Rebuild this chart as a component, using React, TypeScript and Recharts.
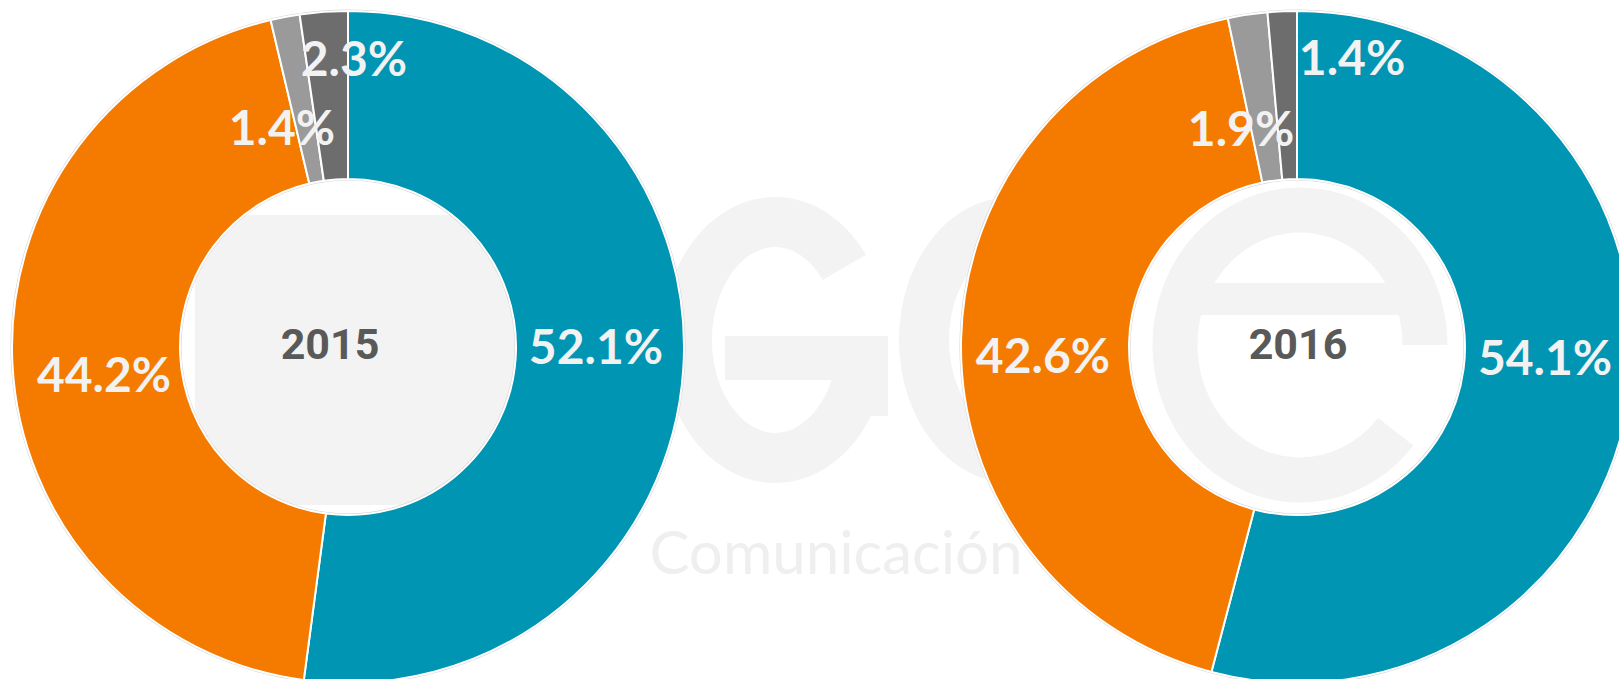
import React from 'react';
import { PieChart, Pie, Cell } from 'recharts';

// ---- data ----
const categories = ['Grupo A', 'Grupo B', 'Grupo C', 'Grupo D'];
const values2015 = [52.1, 44.2, 1.4, 2.3];
const values2016 = [54.1, 42.6, 1.9, 1.4];
const years = ['2015', '2016'];

// ---- styling ----
const colors = ['#0095B3', '#F47B00', '#9A9A9A', '#6D6D6D'];
// label nudges (px) from mid-ring point of each slice
const nudge2015 = [
  { dx: -3.5, dy: -18.6 },
  { dx: 7.7, dy: 13.7 },
  { dx: -18.8, dy: 27.5 },
  { dx: 24.2, dy: -37.7 },
];
const nudge2016 = [
  { dx: -1.9, dy: -22.4 },
  { dx: -2.1, dy: 14.3 },
  { dx: -18.9, dy: 29.3 },
  { dx: 66.1, dy: -39.2 },
];

const toRows = (vals: number[]) => categories.map((name, i) => ({ name, value: vals[i] }));
const data2015 = toRows(values2015);
const data2016 = toRows(values2016);
const ring = [{ name: 'ring', value: 1 }];

const RAD = Math.PI / 180;

const makeLabel = (nudges: { dx: number; dy: number }[], year: string, yearDx: number) =>
  (props: any) => {
    const { cx, cy, midAngle, innerRadius, outerRadius, index, value } = props;
    const r = (innerRadius + outerRadius) / 2;
    const x = cx + r * Math.cos(-midAngle * RAD) + nudges[index].dx;
    const y = cy + r * Math.sin(-midAngle * RAD) + nudges[index].dy;
    return (
      <g>
        <text
          x={x}
          y={y}
          textAnchor="middle"
          dominantBaseline="central"
          fill="#F2F2F2"
          fontFamily="Lato, 'Noto Sans', sans-serif"
          fontWeight={700}
          fontSize={48}
        >
          {`${Number(value).toFixed(1)}%`}
        </text>
        {index === 0 && (
          <text
            x={cx + yearDx}
            y={cy - 3}
            textAnchor="middle"
            dominantBaseline="central"
            fill="#595959"
            fontFamily="Roboto, sans-serif"
            fontWeight={700}
            fontSize={43}
          >
            {year}
          </text>
        )}
      </g>
    );
  };

const W = 1619;
const H = 679;
const CY = 347;
const CX1 = 348;
const CX2 = 1297;
const R_OUT = 336;
const R_IN = 168;

// elliptical arc path helper for the faint background logo
const arcPath = (cx: number, cy: number, rx: number, ry: number, a0: number, a1: number) => {
  const p = (a: number) => [cx + rx * Math.cos(a * RAD), cy - ry * Math.sin(a * RAD)];
  const [x0, y0] = p(a0);
  const [x1, y1] = p(a1);
  const sweep = Math.abs(a1 - a0);
  const large = sweep > 180 ? 1 : 0;
  const dirFlag = a1 > a0 ? 0 : 1;
  return `M ${x0} ${y0} A ${rx} ${ry} 0 ${large} ${dirFlag} ${x1} ${y1}`;
};

function Watermark() {
  const c = '#F3F3F3';
  return (
    <svg width={W} height={H} style={{ position: 'absolute', left: 0, top: 0 }}>
      <rect x={195} y={215} width={320} height={290} rx={45} fill={c} />
      {/* G */}
      <path d={arcPath(775, 340, 88, 118, 38, 350)} stroke={c} strokeWidth={50} fill="none" />
      <rect x={725} y={336} width={163} height={44} fill={c} />
      <rect x={838} y={336} width={50} height={80} fill={c} />
      {/* C */}
      <path d={arcPath(1012, 340, 88, 118, 40, 320)} stroke={c} strokeWidth={50} fill="none" />
      {/* e */}
      <path d={arcPath(1300, 345, 125, 135, 0, 320)} stroke={c} strokeWidth={45} fill="none" />
      <rect x={1185} y={283} width={240} height={32} fill={c} />
      <text x={836} y={574} fontSize={60} textAnchor="middle" fill="#EFEFEF" fontFamily="Lato, sans-serif" fontWeight={400}>Comunicación</text>
    </svg>
  );
}

export default function App() {
  return (
    <div style={{ position: 'absolute', left: 0, top: 0, width: W, height: H, background: '#FFFFFF', overflow: 'hidden' }}>
      <Watermark />
      <div style={{ position: 'absolute', left: 0, top: 0 }}>
        <PieChart width={W} height={H} margin={{ top: 0, right: 0, bottom: 0, left: 0 }}>
          <Pie data={ring} dataKey="value" cx={CX1} cy={CY} innerRadius={R_OUT - 0.5} outerRadius={R_OUT + 1.5} fill="#D4D4D4" stroke="none" isAnimationActive={false} />
          <Pie data={ring} dataKey="value" cx={CX2} cy={CY} innerRadius={R_OUT - 0.5} outerRadius={R_OUT + 1.5} fill="#D4D4D4" stroke="none" isAnimationActive={false} />
          <Pie data={ring} dataKey="value" cx={CX1} cy={CY} innerRadius={R_IN - 1.5} outerRadius={R_IN + 0.5} fill="#D4D4D4" stroke="none" isAnimationActive={false} />
          <Pie data={ring} dataKey="value" cx={CX2} cy={CY} innerRadius={R_IN - 1.5} outerRadius={R_IN + 0.5} fill="#D4D4D4" stroke="none" isAnimationActive={false} />
          <Pie
            data={data2015}
            dataKey="value"
            nameKey="name"
            cx={CX1}
            cy={CY}
            innerRadius={R_IN}
            outerRadius={R_OUT}
            startAngle={90}
            endAngle={-270}
            stroke="#FFFFFF"
            strokeWidth={2}
            labelLine={false}
            label={makeLabel(nudge2015, years[0], -18)}
            isAnimationActive={false}
          >
            {data2015.map((d, i) => (
              <Cell key={d.name} fill={colors[i]} />
            ))}
          </Pie>
          <Pie
            data={data2016}
            dataKey="value"
            nameKey="name"
            cx={CX2}
            cy={CY}
            innerRadius={R_IN}
            outerRadius={R_OUT}
            startAngle={90}
            endAngle={-270}
            stroke="#FFFFFF"
            strokeWidth={2}
            labelLine={false}
            label={makeLabel(nudge2016, years[1], 1)}
            isAnimationActive={false}
          >
            {data2016.map((d, i) => (
              <Cell key={d.name} fill={colors[i]} />
            ))}
          </Pie>
        </PieChart>
      </div>
    </div>
  );
}
